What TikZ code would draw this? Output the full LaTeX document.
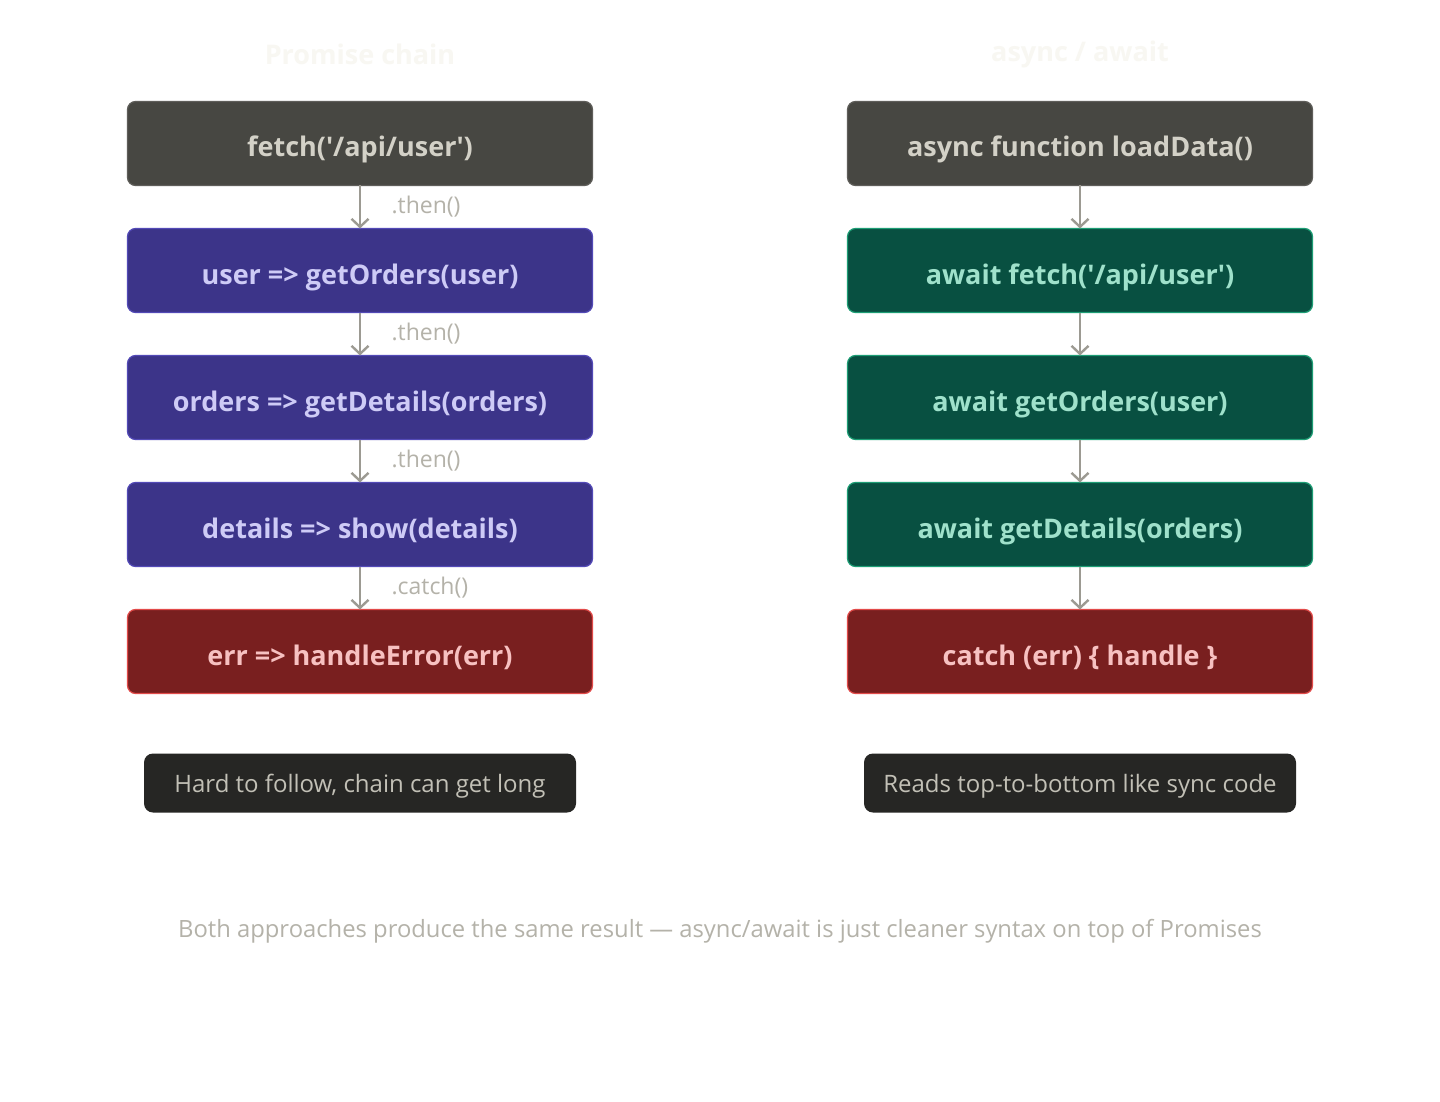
\documentclass[tikz,border=0pt]{standalone}
\usepackage{fontspec}
\setmainfont{Open Sans}
\usetikzlibrary{positioning, arrows.meta}

\definecolor{headfill}{HTML}{474742}
\definecolor{headline}{HTML}{5F5E5A}
\definecolor{headtext}{HTML}{D3D1C7}
\definecolor{thenfill}{HTML}{3C3489}
\definecolor{thenline}{HTML}{534AB7}
\definecolor{thentext}{HTML}{CECBF6}
\definecolor{awaitfill}{HTML}{085041}
\definecolor{awaitline}{HTML}{1D9E75}
\definecolor{awaittext}{HTML}{9FE1CB}
\definecolor{errfill}{HTML}{791F1F}
\definecolor{errline}{HTML}{E24B4A}
\definecolor{errtext}{HTML}{F7C1C1}
\definecolor{notefill}{HTML}{262624}
\definecolor{notetext}{HTML}{C2C0B6}
\definecolor{flowgray}{HTML}{9C9A92}
\definecolor{labelgray}{HTML}{B4B2A9}
\definecolor{titlegray}{HTML}{F8F7F2}

\newcommand{\sq}{\textquotesingle}

\begin{document}
\begin{tikzpicture}[x=1pt, y=-1pt, >={Straight Barb[length=8pt, width=17pt]},
    node distance=43pt,
    stepbox/.style={rectangle, rounded corners=8pt, line width=1.2pt,
      minimum width=465pt, minimum height=84pt, inner sep=0pt, outer sep=0pt,
      text height=27pt, text depth=0pt,
      font=\fontsize{27}{32}\selectfont\bfseries},
    headbox/.style={stepbox, fill=headfill, draw=headline, text=headtext},
    thenbox/.style={stepbox, fill=thenfill, draw=thenline, text=thentext},
    awaitbox/.style={stepbox, fill=awaitfill, draw=awaitline, text=awaittext},
    errbox/.style={stepbox, fill=errfill, draw=errline, text=errtext},
    notebox/.style={rectangle, rounded corners=9pt, fill=notefill, text=notetext,
      minimum width=432pt, minimum height=59pt, inner sep=0pt, outer sep=0pt,
      text height=18pt, text depth=0pt,
      font=\fontsize{24}{28}\selectfont},
    flow/.style={->, draw=flowgray, line width=2.4pt},
    steplabel/.style={text=labelgray, font=\fontsize{23}{26}\selectfont, anchor=west}]

  \fill[white] (0,0) rectangle (1440,1102);
  \useasboundingbox (0,0) rectangle (1440,1102);

  % titles
  \node[text=titlegray, font=\fontsize{27}{30}\selectfont\bfseries] (ptitle) at (360,54) {Promise chain};
  \node[text=titlegray, font=\fontsize{27}{30}\selectfont\bfseries] (atitle) at (1080,54) {async / await};

  % promise chain
  \node[headbox] (fetch) at (360,143.5) {fetch(\sq/api/user\sq)};
  \node[thenbox, below=of fetch] (user) {user => getOrders(user)};
  \node[thenbox, below=of user] (orders) {orders => getDetails(orders)};
  \node[thenbox, below=of orders] (details) {details => show(details)};
  \node[errbox, below=of details] (err) {err => handleError(err)};

  \draw[flow] (fetch) -- node[steplabel, xshift=27pt] {.then()} (user);
  \draw[flow] (user) -- node[steplabel, xshift=27pt] {.then()} (orders);
  \draw[flow] (orders) -- node[steplabel, xshift=27pt] {.then()} (details);
  \draw[flow] (details) -- node[steplabel, xshift=27pt] {.catch()} (err);

  % async / await
  \node[headbox, right=255pt of fetch] (load) {async function loadData()};
  \node[awaitbox, below=of load] (afetch) {await fetch(\sq/api/user\sq)};
  \node[awaitbox, below=of afetch] (aorders) {await getOrders(user)};
  \node[awaitbox, below=of aorders] (adetails) {await getDetails(orders)};
  \node[errbox, below=of adetails] (catch) {catch (err) \{ handle \}};

  \draw[flow] (load) -- (afetch);
  \draw[flow] (afetch) -- (aorders);
  \draw[flow] (aorders) -- (adetails);
  \draw[flow] (adetails) -- (catch);

  % notes
  \node[notebox, below=60pt of err] (pnote) {Hard to follow, chain can get long};
  \node[notebox, below=60pt of catch] (anote) {Reads top-to-bottom like sync code};

  \node[text=labelgray, font=\fontsize{23.8}{28}\selectfont] (summary) at (720,931)
    {Both approaches produce the same result --- async/await is just cleaner syntax on top of Promises};
\end{tikzpicture}
\end{document}
